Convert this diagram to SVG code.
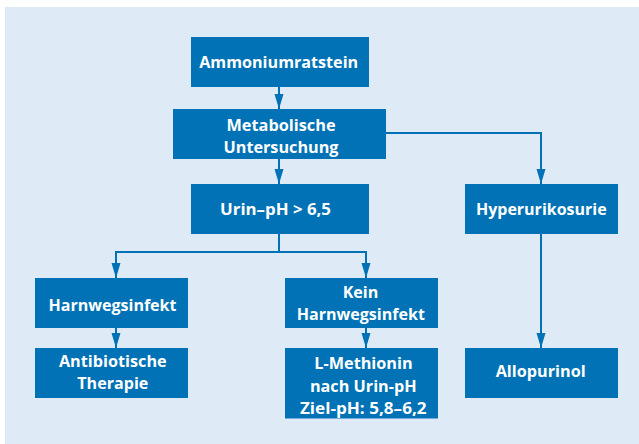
<svg xmlns="http://www.w3.org/2000/svg" width="639" height="444" viewBox="0 0 639 444">
  <style>
    .box { fill: #0072b5; }
    .lbl { font-family: "Open Sans", Lato, "Liberation Sans", sans-serif; font-weight: 700; font-size: 16px; fill: #ffffff; text-anchor: middle; }
    .wire { fill: none; stroke: #0072b5; stroke-width: 2; }
  </style>
  <defs>
    <marker id="head" markerUnits="userSpaceOnUse" markerWidth="16" markerHeight="10" refX="15" refY="4.5" orient="auto">
      <path d="M0,0 L15,4.5 L0,9 z" fill="#0072b5"/>
    </marker>
  </defs>

  <rect x="5" y="7" width="634" height="437" fill="#deebf7"/>

  <g id="connectors">
    <path class="wire" d="M279,87 V109" marker-end="url(#head)"/>
    <path class="wire" d="M279,159 V184" marker-end="url(#head)"/>
    <path class="wire" d="M386,133 H541 V184" marker-end="url(#head)"/>
    <path class="wire" d="M279,234 V252 M116,252 H367"/>
    <path class="wire" d="M116,251 V278" marker-end="url(#head)"/>
    <path class="wire" d="M366,251 V278" marker-end="url(#head)"/>
    <path class="wire" d="M116,328 V348" marker-end="url(#head)"/>
    <path class="wire" d="M366,328 V348" marker-end="url(#head)"/>
    <path class="wire" d="M541,234 V348" marker-end="url(#head)"/>
  </g>

  <g id="ammoniumratstein">
    <rect class="box" x="191" y="37" width="178" height="50"/>
    <text class="lbl" x="278.7" y="68" textLength="159" lengthAdjust="spacingAndGlyphs">Ammoniumratstein</text>
  </g>

  <g id="metabolische-untersuchung">
    <rect class="box" x="173" y="109" width="213" height="50"/>
    <text class="lbl" x="281" y="130.5" textLength="109" lengthAdjust="spacingAndGlyphs">Metabolische</text>
    <text class="lbl" x="281" y="153.3" textLength="115" lengthAdjust="spacingAndGlyphs">Untersuchung</text>
  </g>

  <g id="urin-ph">
    <rect class="box" x="191" y="184" width="178" height="50"/>
    <text class="lbl" x="275.5" y="215" textLength="111" lengthAdjust="spacingAndGlyphs">Urin–pH &gt; 6,5</text>
  </g>

  <g id="hyperurikosurie">
    <rect class="box" x="465" y="184" width="153" height="50"/>
    <text class="lbl" x="541.3" y="215" textLength="130.7" lengthAdjust="spacingAndGlyphs">Hyperurikosurie</text>
  </g>

  <g id="harnwegsinfekt">
    <rect class="box" x="35" y="278" width="153" height="50"/>
    <text class="lbl" x="112.5" y="310.5" textLength="128" lengthAdjust="spacingAndGlyphs">Harnwegsinfekt</text>
  </g>

  <g id="kein-harnwegsinfekt">
    <rect class="box" x="285" y="278" width="153" height="50"/>
    <text class="lbl" x="360.5" y="297.7" textLength="35.7" lengthAdjust="spacingAndGlyphs">Kein</text>
    <text class="lbl" x="360.8" y="320" textLength="128.3" lengthAdjust="spacingAndGlyphs">Harnwegsinfekt</text>
  </g>

  <g id="antibiotische-therapie">
    <rect class="box" x="35" y="348" width="153" height="50"/>
    <text class="lbl" x="112.8" y="366.7" textLength="107.7" lengthAdjust="spacingAndGlyphs">Antibiotische</text>
    <text class="lbl" x="112.8" y="389.3" textLength="71" lengthAdjust="spacingAndGlyphs">Therapie</text>
  </g>

  <g id="l-methionin">
    <rect class="box" x="285" y="348" width="153" height="70.5"/>
    <text class="lbl" x="363.5" y="369" textLength="98.3" lengthAdjust="spacingAndGlyphs">L-Methionin</text>
    <text class="lbl" x="363.3" y="391.7" textLength="106.7" lengthAdjust="spacingAndGlyphs">nach Urin-pH</text>
    <text class="lbl" x="363.3" y="414" textLength="126.7" lengthAdjust="spacingAndGlyphs">Ziel-pH: 5,8–6,2</text>
  </g>

  <g id="allopurinol">
    <rect class="box" x="465" y="348" width="153" height="50"/>
    <text class="lbl" x="540.7" y="376.7" textLength="90" lengthAdjust="spacingAndGlyphs">Allopurinol</text>
  </g>
</svg>
